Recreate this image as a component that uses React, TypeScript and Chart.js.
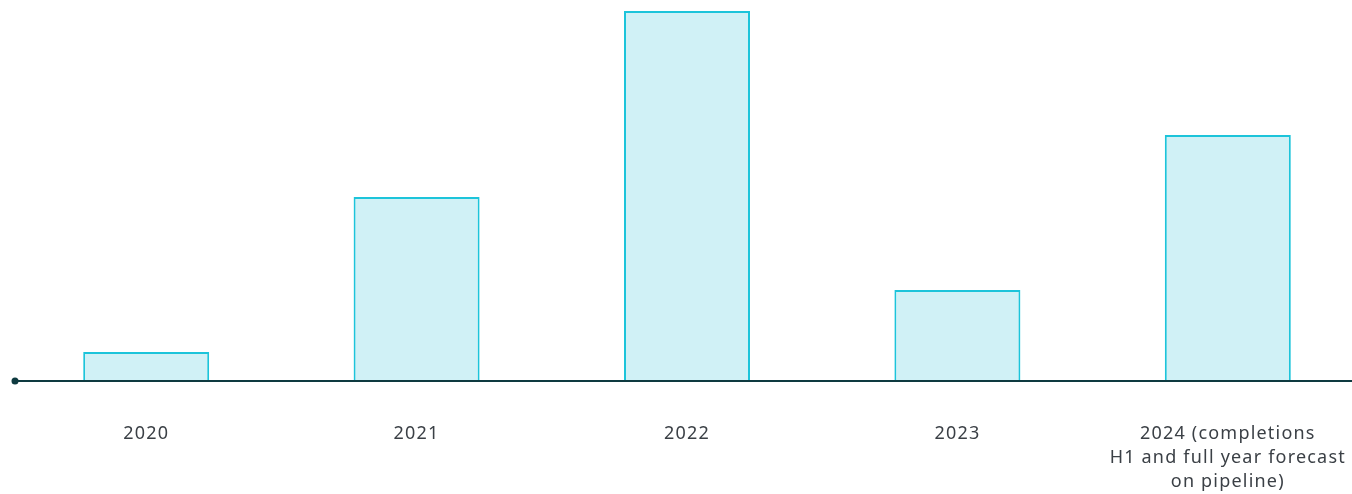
import React, { useEffect, useRef } from "react";
import { Chart, registerables } from "chart.js";

Chart.register(...registerables);

const categories: (string | string[])[] = [
  "2020",
  "2021",
  "2022",
  "2023",
  ["2024 (completions", "H1 and full year forecast", "on pipeline)"],
];
const values = [29, 184, 370, 91, 246];
const yMax = 371;

const baselinePlugin = {
  id: "baseline",
  beforeDraw(chart: any) {
    chart.ctx.letterSpacing = "1.2px";
  },
  afterDatasetsDraw(chart: any) {
    const { ctx, chartArea, scales } = chart;
    const y = scales.y.getPixelForValue(0);
    ctx.save();
    ctx.strokeStyle = "#0e3a40";
    ctx.lineWidth = 2;
    ctx.beginPath();
    ctx.moveTo(chartArea.left + 4, y);
    ctx.lineTo(chart.width, y);
    ctx.stroke();
    ctx.fillStyle = "#0e3a40";
    ctx.beginPath();
    ctx.arc(chartArea.left + 4, y, 3.5, 0, Math.PI * 2);
    ctx.fill();
    ctx.restore();
  },
};

export default function App() {
  const ref = useRef<HTMLCanvasElement>(null);
  useEffect(() => {
    const chart = new Chart(ref.current!, {
      type: "bar",
      data: {
        labels: categories,
        datasets: [
          {
            data: values,
            backgroundColor: "#d0f1f6",
            borderColor: "#1cc4da",
            borderWidth: 2,
            borderSkipped: "start",
            categoryPercentage: 1,
            barPercentage: 0.466,
          },
        ],
      },
      options: {
        animation: false,
        responsive: false,
        maintainAspectRatio: false,
        layout: { padding: { left: 11, right: 0, top: 10, bottom: 0 } },
        plugins: { legend: { display: false }, tooltip: { enabled: false } },
        scales: {
          x: {
            grid: { display: false, drawTicks: true, tickLength: 41 },
            border: { display: false },
            afterFit(scale: any) {
              scale.height = 113;
              scale.paddingLeft = 0;
              scale.paddingRight = 0;
            },
            ticks: {
              color: "#3b4046",
              font: { family: "'Noto Sans'", size: 18, lineHeight: 24 / 18 },
              padding: 0,
              maxRotation: 0,
              autoSkip: false,
            },
          },
          y: { display: false, min: 0, max: yMax },
        },
      },
      plugins: [baselinePlugin],
    });
    return () => chart.destroy();
  }, []);
  return (
    <div
      style={{
        position: "fixed",
        left: 0,
        top: 0,
        width: 1352,
        height: 494,
        overflow: "hidden",
        background: "#ffffff",
      }}
    >
      <canvas ref={ref} width={1363} height={494} style={{ display: "block" }} />
    </div>
  );
}
